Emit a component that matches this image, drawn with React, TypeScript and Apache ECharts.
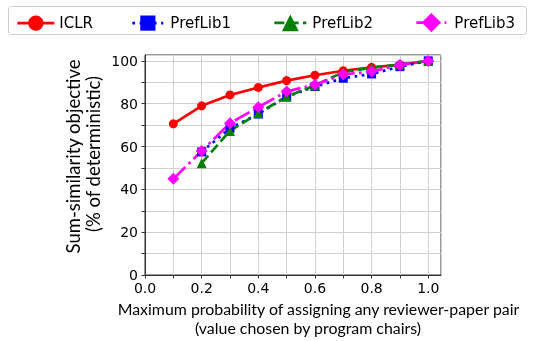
import React, { useEffect, useRef } from "react";
import * as echarts from "echarts";

const xValues = [0.1, 0.2, 0.3, 0.4, 0.5, 0.6, 0.7, 0.8, 0.9, 1.0];
const iclr = [70.6, 79.0, 84.1, 87.6, 90.8, 93.3, 95.4, 97.0, 98.2, 100];
const preflib1 = [null, 57.5, 68.5, 75.2, 83.3, 88.0, 91.9, 93.9, 97.3, 100];
const preflib2 = [null, 52.2, 67.3, 75.5, 83.3, 88.5, 94.8, 96.8, 98.3, 100];
const preflib3 = [44.9, 57.9, 70.9, 78.4, 85.7, 88.9, 93.7, 95.0, 98.1, 100];

const seriesNames = ["ICLR", "PrefLib1", "PrefLib2", "PrefLib3"];
const yTitle = ["Sum-similarity objective", "(% of deterministic)"];
const xTitle = ["Maximum probability of assigning any reviewer-paper pair", "(value chosen by program chairs)"];

const pairs = (vals: (number | null)[]) => xValues.map((x, i) => [x, vals[i]]);

export default function App() {
  const ref = useRef<HTMLDivElement>(null);
  useEffect(() => {
    if (!ref.current) return;
    const chart = echarts.init(ref.current, undefined, { renderer: "svg" });
    const lw = 2.7;
    const legendCfg = [
      { name: seriesNames[0], left: 11, w: 37, h: 19, pad: 0 },
      { name: seriesNames[1], left: 126, w: 31, h: 19, pad: 2 },
      { name: seriesNames[2], left: 268, w: 32, h: 21, pad: 1 },
      { name: seriesNames[3], left: 410, w: 30, h: 24, pad: 3 },
    ];
    chart.setOption({
      animation: false,
      grid: { left: 145, top: 55, right: 93, bottom: 66, show: true, borderColor: "#333", borderWidth: 1, backgroundColor: "transparent" },
      legend: legendCfg.map((c) => ({
        data: [c.name],
        left: c.left,
        top: 20 - c.h / 2,
        itemWidth: c.w,
        itemHeight: c.h,
        selectedMode: false,
        lineStyle: { width: lw },
        textStyle: { fontFamily: "DejaVu Sans", fontSize: 15, color: "#000", padding: [0, 0, 0, c.pad] },
      })),
      xAxis: {
        type: "value",
        min: 0,
        max: 1.045,
        interval: 0.1,
        axisLine: { lineStyle: { color: "#333", width: 1 } },
        axisTick: { show: true, length: 3.5, lineStyle: { color: "#333" } },
        axisLabel: {
          showMaxLabel: false,
          margin: 6,
          fontFamily: "DejaVu Sans",
          fontSize: 14,
          color: "#000",
          formatter: (v: number) => {
            const k = Math.round(v * 10);
            return k % 2 === 0 ? (k / 10).toFixed(1) : "";
          },
        },
        splitLine: { show: true, lineStyle: { color: "#d0d0d0", width: 1 } },
      },
      yAxis: {
        type: "value",
        min: 0,
        max: 102.75,
        interval: 10,
        axisLine: { show: true, lineStyle: { color: "#333", width: 1 } },
        axisTick: { show: true, length: 3.5, lineStyle: { color: "#333" } },
        axisLabel: {
          showMaxLabel: false,
          margin: 7,
          fontFamily: "DejaVu Sans",
          fontSize: 14,
          color: "#000",
          formatter: (v: number) => (Math.round(v) % 20 === 0 ? String(Math.round(v)) : ""),
        },
        splitLine: { show: true, lineStyle: { color: "#d0d0d0", width: 1 } },
      },
      graphic: [
        { type: "rect", z: -1, shape: { x: 8.5, y: 6.5, width: 518, height: 28, r: 3 }, style: { fill: "#fff", stroke: "#cccccc", lineWidth: 1 } },
        { type: "text", x: 73, y: 156.5, rotation: Math.PI / 2, style: { text: yTitle[0], fontFamily: "Lato", fontSize: 18.5, fill: "#000", textAlign: "center", textVerticalAlign: "middle" } },
        { type: "text", x: 93, y: 154, rotation: Math.PI / 2, style: { text: yTitle[1], fontFamily: "Lato", fontSize: 18.5, fill: "#000", textAlign: "center", textVerticalAlign: "middle" } },
        { type: "text", x: 318.5, y: 308.5, style: { text: xTitle[0], fontFamily: "Lato", fontSize: 15.9, fill: "#000", textAlign: "center", textVerticalAlign: "middle" } },
        { type: "text", x: 308, y: 327.5, style: { text: xTitle[1], fontFamily: "Lato", fontSize: 15.9, fill: "#000", textAlign: "center", textVerticalAlign: "middle" } },
      ],
      series: [
        {
          name: seriesNames[0], type: "line", data: pairs(iclr), symbol: "circle", symbolSize: 9,
          lineStyle: { color: "#ff0000", width: lw, type: "solid" }, itemStyle: { color: "#ff0000" },
        },
        {
          name: seriesNames[1], type: "line", data: pairs(preflib1), symbol: "rect", symbolSize: 9,
          lineStyle: { color: "#0000ff", width: lw, type: [2.7, 4.5] }, itemStyle: { color: "#0000ff" },
        },
        {
          name: seriesNames[2], type: "line", data: pairs(preflib2), symbol: "triangle", symbolSize: 10,
          lineStyle: { color: "#008000", width: lw, type: [10, 4.3] }, itemStyle: { color: "#008000" },
        },
        {
          name: seriesNames[3], type: "line", data: pairs(preflib3), symbol: "diamond", symbolSize: 12,
          lineStyle: { color: "#ff00ff", width: lw, type: [17, 4.3, 2.7, 4.3] }, itemStyle: { color: "#ff00ff" },
        },
      ],
    });
    return () => chart.dispose();
  }, []);
  return <div ref={ref} style={{ position: "fixed", left: 0, top: 0, width: 534, height: 341 }} />;
}
